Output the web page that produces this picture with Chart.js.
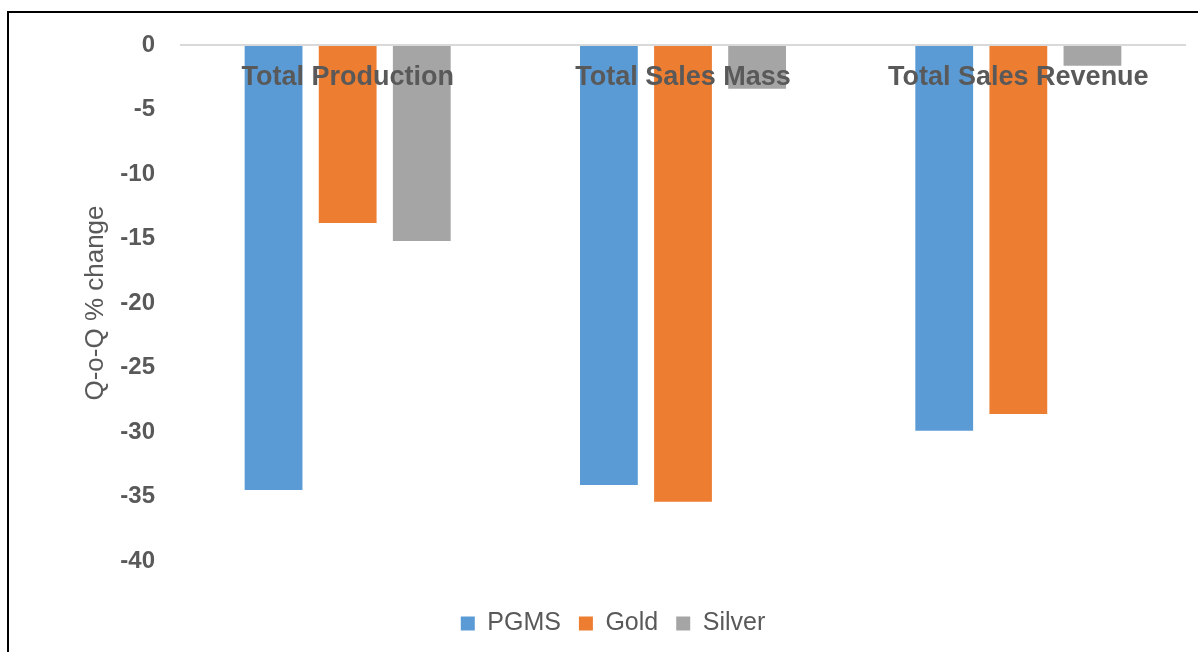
<!DOCTYPE html>
<html>
<head>
<meta charset="utf-8">
<script src="https://cdn.jsdelivr.net/npm/chart.js@4/dist/chart.umd.min.js"></script>
<style>
  html, body { margin: 0; padding: 0; background: #fff; }
  #wrap { position: relative; width: 1198px; height: 652px; }
  #frame {
    position: absolute; left: 7px; top: 11px; right: -4px; bottom: -4px;
    border-left: 2px solid #000; border-top: 2px solid #000;
    pointer-events: none;
  }
</style>
</head>
<body>
<div id="wrap">
  <canvas id="bar-chart" width="1198" height="652"></canvas>
  <div id="frame"></div>
</div>
<script>
var categories = ["Total Production", "Total Sales Mass", "Total Sales Revenue"];
var pgms   = [-34.5, -34.1, -29.9];
var gold   = [-13.8, -35.4, -28.6];
var silver = [-15.2, -3.4, -1.6];
var yTicks = [0, -5, -10, -15, -20, -25, -30, -35, -40];

var grey = "#595959";

// category names sit just under the zero line, on top of the bars
var categoryLabels = {
  id: "categoryLabels",
  afterDatasetsDraw: function (chart) {
    var ctx = chart.ctx;
    var x = chart.scales.x, y = chart.scales.y;
    ctx.save();
    ctx.font = "bold 27px 'Liberation Sans', Arial, sans-serif";
    ctx.fillStyle = grey;
    ctx.textAlign = "center";
    ctx.textBaseline = "middle";
    categories.forEach(function (c, i) {
      ctx.fillText(c, x.getPixelForValue(i), y.getPixelForValue(0) + 33);
    });
    ctx.restore();
  }
};

new Chart(document.getElementById("bar-chart"), {
  type: "bar",
  data: {
    labels: categories,
    datasets: [
      { label: "PGMS",   backgroundColor: "#5B9BD5", data: pgms },
      { label: "Gold",   backgroundColor: "#ED7D31", data: gold },
      { label: "Silver", backgroundColor: "#A5A5A5", data: silver }
    ]
  },
  options: {
    responsive: false,
    animation: false,
    categoryPercentage: 0.663,
    barPercentage: 0.78,
    layout: { padding: { left: 40, right: 12, top: 45, bottom: 6 } },
    plugins: {
      title: { display: false },
      tooltip: { enabled: false },
      legend: {
        position: "bottom",
        labels: {
          boxWidth: 14,
          boxHeight: 14,
          padding: 18,
          color: grey,
          font: { family: "'Liberation Sans', Arial, sans-serif", size: 25 }
        }
      }
    },
    scales: {
      x: {
        grid: { display: false },
        border: { display: false },
        ticks: { display: false },
        afterFit: function (scale) { scale.height = 32; }
      },
      y: {
        min: -40,
        max: 0,
        afterBuildTicks: function (scale) {
          scale.ticks = yTicks.map(function (v) { return { value: v }; });
        },
        afterFit: function (scale) { scale.width = 140; },
        border: { display: false },
        grid: {
          drawTicks: false,
          lineWidth: 2,
          color: function (c) { return c.tick && c.tick.value === 0 ? "#d9d9d9" : "rgba(0,0,0,0)"; }
        },
        ticks: {
          padding: 25,
          color: grey,
          font: { family: "'Liberation Sans', Arial, sans-serif", size: 24, weight: "bold" }
        },
        title: {
          display: true,
          text: "Q-o-Q % change",
          color: grey,
          padding: { top: 40, bottom: 0 },
          font: { family: "'Liberation Sans', Arial, sans-serif", size: 26 }
        }
      }
    }
  },
  plugins: [categoryLabels]
});
</script>
</body>
</html>
